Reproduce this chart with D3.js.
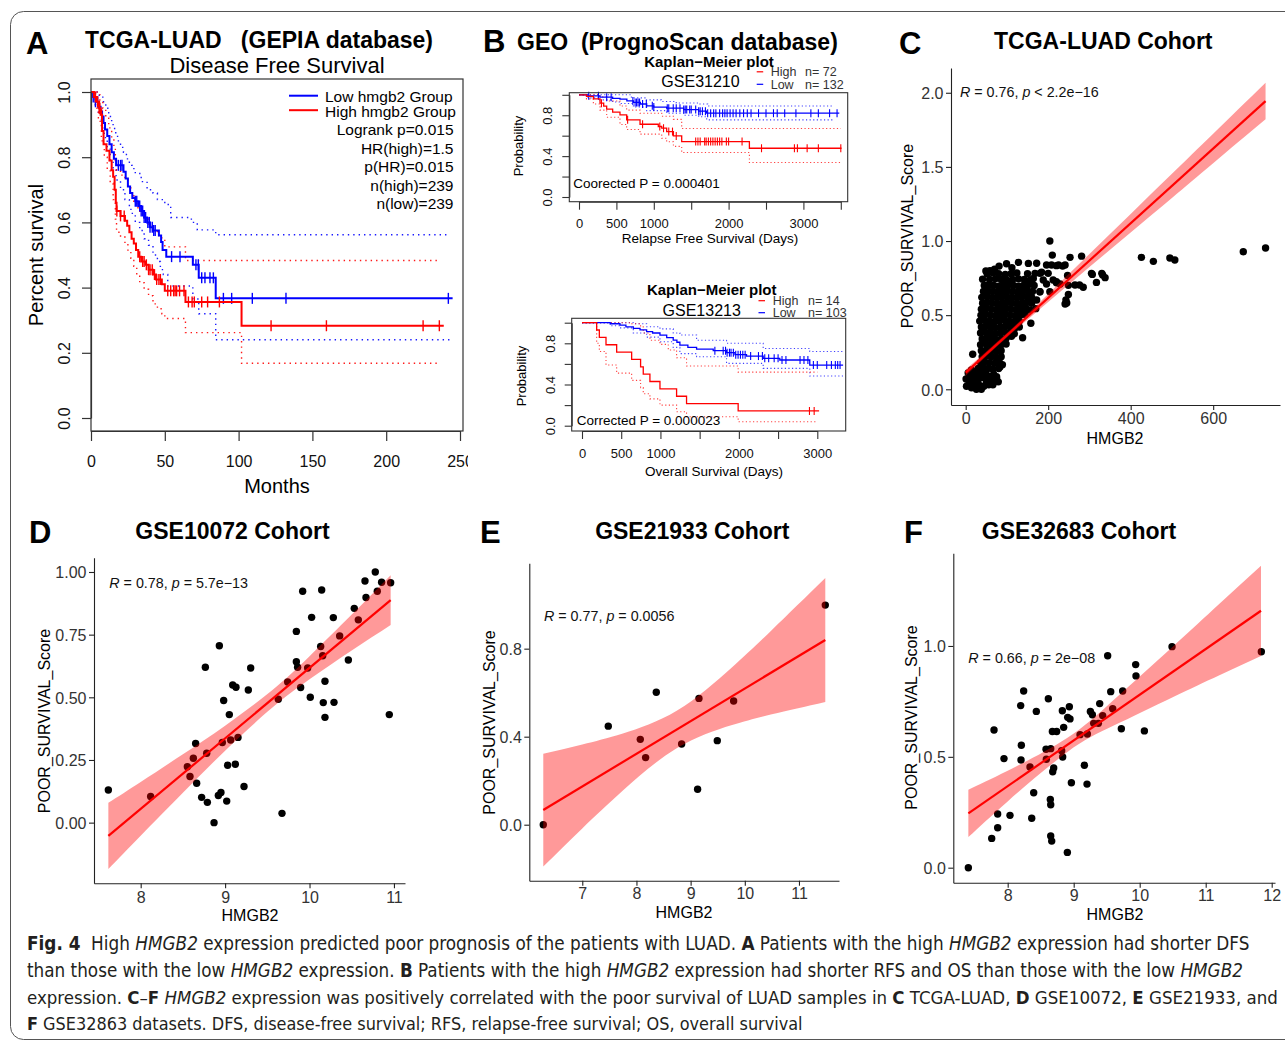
<!DOCTYPE html>
<html>
<head>
<meta charset="utf-8">
<title>HMGB2 expression and survival in LUAD</title>
<script src="https://cdn.jsdelivr.net/npm/d3@7"></script>
<style>
  html, body { margin: 0; padding: 0; background: #fff; }
  svg text { font-family: "Liberation Sans", Arial, Helvetica, sans-serif; }
  svg text.caption { font-family: "Liberation Sans Narrow", "DejaVu Sans Condensed", "Roboto Condensed", "Open Sans Condensed", "Liberation Sans", sans-serif; font-stretch: condensed; }
</style>
</head>
<body>
<svg id="fig" width="1285" height="1042" xmlns="http://www.w3.org/2000/svg"></svg>
<script>
// ---------- A: TCGA-LUAD disease free survival (months, survival) ----------
const dfsLow = [[0,1],[1.5,0.985],[3,0.97],[5,0.955],[6.5,0.94],[7.5,0.925],[8.5,0.905],[9.5,0.885],[11,0.865],[12.5,0.84],[14,0.815],[15.5,0.795],[17,0.775],[22,0.755],[23.5,0.735],[25,0.71],[26.5,0.69],[28,0.675],[30,0.665],[32,0.65],[34,0.635],[36,0.615],[38,0.6],[40,0.585],[42,0.575],[46,0.56],[47.5,0.54],[48.5,0.515],[51,0.495],[69,0.47],[73,0.43],[84.5,0.367],[245,0.367]];
const dfsLowUpper = [[0,1],[5,0.99],[8,0.97],[10,0.95],[12,0.925],[14,0.9],[16,0.875],[18,0.85],[20,0.83],[22,0.815],[24,0.795],[26,0.775],[28,0.765],[30,0.75],[34,0.725],[38,0.7],[42,0.69],[45,0.67],[50,0.655],[54,0.615],[68,0.6],[72,0.577],[84.5,0.562],[243,0.562]];
const dfsLowLower = [[0,1],[3,0.96],[5,0.93],[7,0.9],[9,0.86],[11,0.83],[13,0.79],[15,0.76],[17,0.73],[20,0.7],[23,0.67],[26,0.64],[28,0.62],[30,0.6],[33,0.575],[36,0.55],[39,0.53],[42,0.5],[45,0.48],[47,0.455],[49,0.44],[52,0.405],[69,0.365],[73,0.32],[84.5,0.24],[243,0.24]];
const dfsLowCensor = [1.5,3,4.5,18.5,20,21,30,31,33,34,35,36,37,38.5,39.5,40,41.5,42.5,43.5,54.6,60.3,71.1,72.7,75,77.2,80.6,82.9,89.7,95.3,109.3,132.1,242.1];

const dfsHigh = [[0,1],[2,0.985],[4,0.97],[5.5,0.95],[6.5,0.93],[7.5,0.88],[8.5,0.84],[10.5,0.82],[12.5,0.79],[14,0.76],[15,0.74],[16,0.7],[16.8,0.66],[17.3,0.635],[20,0.62],[23,0.605],[24.5,0.59],[26,0.57],[27.5,0.55],[29,0.535],[30.5,0.515],[32,0.495],[34,0.48],[37,0.47],[39,0.455],[42,0.44],[44,0.425],[48,0.41],[50,0.39],[64,0.356],[102,0.283],[239,0.283]];
const dfsHighUpper = [[0,1],[3,1],[6,0.975],[8,0.95],[10,0.92],[12,0.89],[14,0.86],[15.5,0.83],[16.5,0.79],[17.3,0.76],[20,0.745],[23,0.73],[25,0.71],[27,0.69],[29,0.665],[31,0.645],[33,0.625],[36,0.61],[39,0.59],[42,0.575],[45,0.56],[48,0.545],[50,0.525],[64,0.483],[236,0.483]];
const dfsHighLower = [[0,1],[3,0.95],[5,0.91],[7,0.85],[9,0.8],[11,0.76],[13,0.72],[15,0.67],[16.5,0.61],[17.3,0.57],[20,0.555],[23,0.535],[25,0.515],[27,0.49],[29,0.465],[31,0.44],[33,0.415],[36,0.395],[39,0.375],[42,0.35],[45,0.335],[48,0.32],[50,0.305],[64,0.262],[102,0.168],[236,0.168]];
const dfsHighCensor = [3,4.5,5.5,6,7.2,17.5,20,22.5,33,35,36,37.5,39,40,41.5,43,44.5,46,47,52,54,56,57,58,60,63,66,68.5,70,75,79,87,122,159.5,225,236];

const dfsXTicks = [0,50,100,150,200,250];
const survTicks = [0,0.2,0.4,0.6,0.8,1.0];
const dfsLegend = ["Low hmgb2 Group","High hmgb2 Group"];
const dfsStats = ["Logrank p=0.015","HR(high)=1.5","p(HR)=0.015","n(high)=239","n(low)=239"];

// ---------- B: GSE31210 relapse free survival (days, probability) ----------
const rfsLow = [[0,1],[120,0.99],[280,0.977],[450,0.965],[548,0.957],[640,0.94],[727,0.925],[820,0.91],[905,0.892],[1000,0.88],[1172,0.869],[1400,0.855],[1600,0.84],[1707,0.82],[3480,0.82]];
const rfsLowUpper = [[0,1],[450,1],[700,0.97],[900,0.95],[1100,0.935],[1300,0.92],[1600,0.91],[1720,0.89],[3400,0.89]];
const rfsLowLower = [[0,1],[120,0.97],[280,0.95],[450,0.93],[548,0.915],[727,0.88],[905,0.845],[1172,0.82],[1400,0.8],[1600,0.785],[1707,0.755],[3400,0.755]];
const rfsLowCensor = [130,260,370,430,720,750,770,790,810,850,900,980,1000,1180,1200,1260,1300,1350,1400,1420,1440,1480,1500,1560,1600,1620,1650,1690,1720,1760,1800,1830,1880,1920,1950,1980,2020,2060,2100,2150,2200,2250,2300,2400,2500,2600,2650,2750,2900,3100,3200,3350,3450];
const rfsHigh = [[0,1],[100,0.985],[192,0.961],[281,0.918],[330,0.89],[370,0.86],[450,0.83],[548,0.804],[637,0.755],[816,0.712],[1060,0.69],[1106,0.673],[1172,0.64],[1262,0.598],[1373,0.542],[2278,0.477],[3510,0.477]];
const rfsHighUpper = [[0,1],[192,1],[281,0.98],[370,0.94],[548,0.89],[637,0.85],[816,0.82],[1106,0.79],[1262,0.76],[1373,0.67],[3500,0.67]];
const rfsHighLower = [[0,1],[100,0.96],[192,0.91],[281,0.85],[370,0.78],[548,0.71],[637,0.66],[816,0.615],[1106,0.575],[1172,0.54],[1262,0.495],[1373,0.435],[2278,0.337],[3500,0.337]];
const rfsHighCensor = [300,650,850,1080,1130,1200,1250,1300,1560,1590,1620,1680,1700,1730,1760,1790,1820,1850,1880,1910,1970,2000,2180,2440,2880,2920,3050,3200,3500];

// ---------- B: GSE13213 overall survival (days, probability) ----------
const osLow = [[0,1],[360,0.99],[484,0.977],[560,0.96],[654,0.945],[740,0.93],[824,0.913],[900,0.9],[994,0.88],[1080,0.855],[1163,0.83],[1210,0.81],[1248,0.783],[1350,0.76],[1461,0.744],[1673,0.728],[1843,0.709],[1950,0.69],[2098,0.676],[2310,0.654],[2522,0.638],[2904,0.589],[3329,0.589]];
const osLowUpper = [[0,1],[500,1],[654,0.99],[824,0.96],[994,0.94],[1163,0.9],[1248,0.88],[1461,0.83],[1843,0.8],[2310,0.75],[2904,0.72],[3329,0.72]];
const osLowLower = [[0,1],[360,0.97],[484,0.95],[654,0.9],[824,0.86],[994,0.815],[1163,0.76],[1248,0.7],[1461,0.67],[1843,0.605],[2310,0.557],[2904,0.482],[3329,0.482]];
const osLowCensor = [1694,1800,1830,1850,1880,1900,1930,1960,1990,2020,2050,2080,2150,2250,2300,2330,2380,2450,2500,2550,2600,2780,2830,2880,2950,3000,3120,3180,3230,3260,3290];
const osHigh = [[0,1],[187,0.929],[221,0.857],[306,0.786],[442,0.714],[633,0.643],[747,0.571],[781,0.5],[866,0.429],[994,0.357],[1206,0.286],[1333,0.214],[1991,0.143],[3023,0.143]];
const osHighUpper = [[0,1],[633,0.99],[747,0.96],[781,0.9],[866,0.83],[994,0.79],[1100,0.735],[1206,0.66],[1333,0.58],[1991,0.52],[3000,0.52]];
const osHighLower = [[0,1],[187,0.8],[221,0.72],[306,0.59],[442,0.51],[633,0.44],[747,0.37],[781,0.31],[866,0.26],[994,0.2],[1206,0.136],[1333,0.087],[1991,0.039],[3000,0.039]];
const osHighCensor = [2900,2960];

const rfsXTicks = [0,500,1000,1500,2000,2500,3000,3500];
const osXTicks = [0,500,1000,1500,2000,2500,3000];
const daysLabels = [0,500,1000,2000,3000];
const probLabels = [0,0.4,0.8];

// ---------- C: TCGA-LUAD (HMGB2, POOR_SURVIVAL_Score) ----------
const tcgaPoints = [
  [2,0.02],[8,0.05],[14,0.01],[20,0.04],[26,0.0],[32,0.03],[38,0.0],[44,0.02],[50,0.05],[56,0.03],[62,0.06],[1,0.07],[10,0.09],[17,0.07],[24,0.09],[30,0.06],[36,0.1],[42,0.08],[48,0.11],[55,0.09],[68,0.1],[75,0.07],[79,0.05],[6,0.11],[14,0.13],[22,0.11],[30,0.13],[38,0.15],[12,0.03],[28,0.02],[66,0.03],[83,0.15],[75,0.085],
  [30,0.14],[42,0.145],[54,0.14],[66,0.135],[80,0.14],
  [36,0.18],[46,0.185],[58,0.18],[70,0.175],[82,0.18],
  [17,0.236],[40,0.22],[50,0.225],[62,0.22],[74,0.215],[86,0.22],
  [38,0.26],[50,0.265],[62,0.26],[74,0.255],[86,0.26],
  [36,0.3],[50,0.305],[62,0.3],[74,0.295],[86,0.3],[98,0.305],
  [40,0.34],[50,0.345],[62,0.34],[74,0.335],[86,0.34],[98,0.345],[111,0.357],[138,0.348],
  [36,0.38],[48,0.385],[60,0.38],[72,0.375],[84,0.38],[96,0.385],[108,0.38],[118,0.375],
  [38,0.42],[48,0.425],[60,0.42],[72,0.415],[84,0.42],[96,0.425],[108,0.42],[120,0.415],[130,0.42],
  [34,0.46],[46,0.465],[58,0.46],[70,0.455],[82,0.46],[94,0.465],[106,0.46],[118,0.455],[130,0.46],[158,0.445],
  [37,0.5],[48,0.505],[60,0.5],[72,0.495],[84,0.5],[96,0.505],[108,0.5],[120,0.495],[132,0.5],[144,0.505],
  [38,0.54],[50,0.545],[62,0.54],[74,0.535],[86,0.54],[98,0.545],[110,0.54],[122,0.535],[134,0.54],[146,0.545],[156,0.535],[170,0.544],
  [41,0.58],[52,0.585],[64,0.58],[76,0.575],[88,0.58],[100,0.585],[112,0.58],[124,0.575],[136,0.58],[148,0.585],[160,0.58],
  [39,0.62],[52,0.625],[64,0.62],[76,0.615],[88,0.62],[100,0.625],[112,0.62],[124,0.615],[136,0.62],[148,0.625],[160,0.62],[172,0.602],
  [43,0.66],[54,0.665],[66,0.66],[78,0.655],[90,0.66],[102,0.665],[114,0.66],[126,0.655],[138,0.66],[150,0.665],[162,0.66],[180,0.658],
  [45,0.7],[56,0.705],[68,0.7],[80,0.695],[92,0.7],[104,0.705],[116,0.7],[128,0.695],[140,0.7],[152,0.705],[166,0.7],
  [41,0.742],[58,0.74],[72,0.745],[86,0.74],[100,0.735],[114,0.74],[128,0.745],[142,0.74],[156,0.735],[164,0.748],
  [52,0.78],[66,0.785],[80,0.78],[96,0.775],[110,0.78],[124,0.785],[150,0.78],[168,0.782],[180,0.782],
  [49,0.798],[59,0.8],[81,0.831],[99,0.847],[128,0.856],[152,0.849],[172,0.85],[70,0.81],[112,0.82],
  [204,1.0],[210,0.905],[253,0.89],[281,0.898],[426,0.89],[455,0.863],[495,0.885],[507,0.872],[673,0.928],[727,0.953],
  [307,0.775],[317,0.721],[332,0.771],[338,0.753],[276,0.703],[285,0.688],[249,0.701],[249,0.64],[245,0.582],[241,0.575],
  [208,0.838],[220,0.834],[235,0.831],[225,0.838],[241,0.838],[196,0.838],[200,0.782],[184,0.789],[196,0.71],[229,0.71],
  [220,0.726],[247,0.768],[212,0.737],[188,0.737],[220,0.719],[265,0.703],[305,0.782],[330,0.782],[243,0.602],[204,0.658],
  [180,0.658],[156,0.625],[89,0.166]
];
const tcgaFit = [[0,0.112],[727,1.944]];
const tcgaBand = [[0,0.091,0.133],[100,0.349,0.379],[200,0.589,0.643],[300,0.824,0.912],[400,1.058,1.182],[500,1.291,1.453],[600,1.525,1.723],[727,1.821,2.067]];

// ---------- D: GSE10072 ----------
const gse10072Points = [
  [7.617,0.130],[8.118,0.104],[8.553,0.223],[8.584,0.184],[8.624,0.257],[8.651,0.316],[8.663,0.157],[8.722,0.101],[8.766,0.620],[8.782,0.277],
  [8.790,0.081],[8.869,0.0],[8.920,0.108],[8.951,0.120],[8.932,0.706],[8.967,0.320],[8.983,0.487],[9.019,0.086],[9.030,0.229],[9.050,0.431],
  [9.066,0.330],[9.090,0.549],[9.121,0.233],[9.129,0.540],[9.153,0.340],[9.224,0.144],[9.275,0.529],[9.303,0.617],[9.630,0.492],[9.674,0.037],
  [9.741,0.561],[9.844,0.763],[9.844,0.642],[9.859,0.620],[9.895,0.539],[9.919,0.923],[9.978,0.617],[10.009,0.500],[10.025,0.819],[10.132,0.703],
  [10.144,0.928],[10.156,0.666],[10.163,0.479],[10.183,0.564],[10.183,0.420],[10.282,0.818],[10.290,0.480],[10.357,0.745],[10.460,0.649],[10.530,0.855],
  [10.578,0.809],[10.657,0.964],[10.669,0.898],[10.779,1.0],[10.803,0.923],[10.854,0.959],[10.945,0.431],[10.961,0.957]
];
const gse10072Fit = [[7.617,-0.053],[10.961,0.888]];
const gse10072Band = [[7.617,-0.185,0.079],[8.0,-0.052,0.162],[8.5,0.119,0.273],[9.0,0.287,0.387],[9.55,0.456,0.526],[10.0,0.572,0.664],[10.5,0.687,0.830],[10.961,0.789,0.987]];

// ---------- E: GSE21933 ----------
const gse21933Points = [[6.28,0.0],[7.48,0.448],[8.071,0.388],[8.169,0.305],[8.366,0.602],[8.834,0.367],[9.129,0.161],[9.154,0.574],[9.492,0.382],[9.794,0.562],[11.486,0.998]];
const gse21933Fit = [[6.28,0.067],[11.486,0.8395]];
const gse21933Band = [[6.28,-0.190,0.323],[7.0,-0.017,0.365],[7.75,0.155,0.415],[8.75,0.3485,0.5185],[9.75,0.452,0.712],[10.5,0.502,0.885],[11.486,0.558,1.121]];

// ---------- F: GSE32683 ----------
const gse32683Points = [
  [7.404,0.0],[7.758,0.132],[7.793,0.621],[7.848,0.242],[7.848,0.180],[7.944,0.492],[8.035,0.236],[8.197,0.731],[8.207,0.552],[8.202,0.486],
  [8.242,0.797],[8.338,0.454],[8.364,0.223],[8.394,0.338],[8.434,0.705],[8.581,0.534],[8.586,0.489],[8.616,0.762],[8.652,0.537],[8.646,0.308],
  [8.652,0.284],[8.652,0.143],[8.667,0.120],[8.677,0.614],[8.697,0.450],[8.682,0.433],[8.742,0.614],[8.818,0.528],[8.833,0.499],[8.828,0.708],
  [8.848,0.633],[8.904,0.069],[8.909,0.678],[8.934,0.726],[8.944,0.671],[8.965,0.383],[9.096,0.600],[9.162,0.462],[9.202,0.377],[9.207,0.603],
  [9.253,0.705],[9.283,0.690],[9.303,0.651],[9.374,0.651],[9.394,0.740],[9.439,0.686],[9.515,0.956],[9.561,0.794],[9.591,0.717],[9.722,0.627],
  [9.742,0.797],[9.939,0.916],[9.944,0.865],[10.071,0.617],[10.490,0.997],[11.843,0.974]
];
const gse32683Fit = [[7.404,0.245],[11.838,1.159]];
const gse32683Band = [[7.404,0.138,0.352],[8.0,0.299,0.437],[8.9,0.521,0.585],[9.6,0.640,0.755],[10.5,0.769,0.997],[11.2,0.867,1.188],[11.838,0.955,1.362]];

// ---------- caption ----------
const captionLines = [
  [["b", "Fig. 4"], ["r", "  High "], ["i", "HMGB2"], ["r", " expression predicted poor prognosis of the patients with LUAD. "], ["b", "A"], ["r", " Patients with the high "], ["i", "HMGB2"], ["r", " expression had shorter DFS"]],
  [["r", "than those with the low "], ["i", "HMGB2"], ["r", " expression. "], ["b", "B"], ["r", " Patients with the high "], ["i", "HMGB2"], ["r", " expression had shorter RFS and OS than those with the low "], ["i", "HMGB2"]],
  [["r", "expression. "], ["b", "C"], ["r", "\u2013"], ["b", "F"], ["r", " "], ["i", "HMGB2"], ["r", " expression was positively correlated with the poor survival of LUAD samples in "], ["b", "C"], ["r", " TCGA-LUAD, "], ["b", "D"], ["r", " GSE10072, "], ["b", "E"], ["r", " GSE21933, and"]],
  [["b", "F"], ["r", " GSE32863 datasets. DFS, disease-free survival; RFS, relapse-free survival; OS, overall survival"]]
];

// ---------- drawing ----------
const svg = d3.select("#fig");
const BLUE = "#0000ff", RED = "#ff0000";

function txt(parent, x, y, s, o = {}) {
  return parent.append("text").attr("x", x).attr("y", y)
    .attr("font-size", o.size || 14)
    .attr("font-weight", o.weight || null)
    .attr("font-style", o.style || null)
    .attr("text-anchor", o.anchor || "start")
    .attr("fill", o.fill || "#000")
    .attr("transform", o.rotate ? `rotate(-90,${x},${y})` : null)
    .style("white-space", "pre")
    .text(s);
}

// figure frame
svg.append("rect").attr("x", 10.5).attr("y", 11.5).attr("width", 1300).attr("height", 1028)
  .attr("rx", 13).attr("fill", "none").attr("stroke", "#555").attr("stroke-width", 1);

function kmPanel(cfg) {
  const g = svg.append("g");
  const x = d3.scaleLinear().domain(cfg.xDomain).range(cfg.xRange);
  const y = d3.scaleLinear().domain([0, 1]).range(cfg.yRange);
  const [bx0, by0, bx1, by1] = cfg.box;
  const step = d3.line().x(d => x(d[0])).y(d => y(d[1])).curve(d3.curveStepAfter);

  cfg.series.forEach(s => {
    [s.upper, s.lower].forEach(ci => {
      g.append("path").datum(ci).attr("d", step).attr("fill", "none")
        .attr("stroke", s.color).attr("stroke-width", cfg.ciWidth)
        .attr("stroke-dasharray", cfg.dash).attr("opacity", cfg.ciOpacity);
    });
  });
  cfg.series.forEach(s => {
    g.append("path").datum(s.steps).attr("d", step).attr("fill", "none")
      .attr("stroke", s.color).attr("stroke-width", cfg.lineWidth);
    const survAt = t => { let v = 1; for (const [tt, sv] of s.steps) { if (tt <= t) v = sv; else break; } return v; };
    g.append("g").selectAll("line").data(s.censor).join("line")
      .attr("x1", d => x(d)).attr("x2", d => x(d))
      .attr("y1", d => y(survAt(d)) - cfg.censorH).attr("y2", d => y(survAt(d)) + cfg.censorH)
      .attr("stroke", s.color).attr("stroke-width", cfg.censorW);
  });

  g.append("rect").attr("x", bx0).attr("y", by0).attr("width", bx1 - bx0).attr("height", by1 - by0)
    .attr("fill", "none").attr("stroke", "#333").attr("stroke-width", cfg.boxWidth);

  const xAxis = d3.axisBottom(x).tickValues(cfg.xTicks).tickSize(cfg.tickX).tickSizeOuter(0)
    .tickFormat(d => cfg.xLabels.includes(d) ? String(d) : "");
  const gx = g.append("g").attr("transform", `translate(0,${by1})`).attr("color", "#333").call(xAxis);
  gx.selectAll("text").attr("y", cfg.xLabelOff).attr("dy", 0).attr("font-size", cfg.tickFont).attr("fill", "#111");
  if (cfg.clipX) gx.attr("clip-path", `url(#${cfg.clipX})`);

  const yAxis = d3.axisLeft(y).tickValues(survTicks).tickSize(cfg.tickY).tickSizeOuter(0)
    .tickFormat(d => cfg.yLabels.includes(d) ? d3.format(".1f")(d) : "");
  const gy = g.append("g").attr("transform", `translate(${bx0},0)`).attr("color", "#333").call(yAxis);
  gy.selectAll("text").attr("x", 0).attr("dy", 0).attr("text-anchor", "middle")
    .attr("transform", `translate(${cfg.yLabelOff},0) rotate(-90)`)
    .attr("font-size", cfg.tickFont).attr("fill", "#111");
  gx.selectAll(".domain, line").attr("stroke-width", cfg.boxWidth);
  gy.selectAll(".domain, line").attr("stroke-width", cfg.boxWidth);
  return g;
}

svg.append("defs").append("clipPath").attr("id", "clipA")
  .append("rect").attr("x", 0).attr("y", 0).attr("width", 468).attr("height", 1042);

// ---- Panel A ----
kmPanel({
  xDomain: [0, 250], xRange: [91, 460], yRange: [418, 92], box: [91, 79, 463, 431],
  xTicks: dfsXTicks, xLabels: dfsXTicks, yLabels: survTicks,
  tickX: 10, tickY: 9, xLabelOff: 35.7, yLabelOff: -21, tickFont: 16,
  lineWidth: 2, ciWidth: 1.4, dash: "1.4,4", ciOpacity: 0.9, censorH: 5.5, censorW: 1.4, boxWidth: 1.2,
  clipX: "clipA",
  series: [
    { color: BLUE, steps: dfsLow, upper: dfsLowUpper, lower: dfsLowLower, censor: dfsLowCensor },
    { color: RED, steps: dfsHigh, upper: dfsHighUpper, lower: dfsHighLower, censor: dfsHighCensor }
  ]
});
txt(svg, 26, 53.5, "A", { size: 31, weight: "bold" });
txt(svg, 85, 48, "TCGA-LUAD   (GEPIA database)", { size: 23, weight: "bold" });
txt(svg, 277, 73, "Disease Free Survival", { size: 22, anchor: "middle" });
txt(svg, 277, 493, "Months", { size: 20, anchor: "middle" });
txt(svg, 42.5, 255, "Percent survival", { size: 20, anchor: "middle", rotate: true });
[BLUE, RED].forEach((c, i) => {
  svg.append("line").attr("x1", 289).attr("x2", 318).attr("y1", 95.7 + i * 14.5).attr("y2", 95.7 + i * 14.5)
    .attr("stroke", c).attr("stroke-width", 2);
  txt(svg, 325, 101.5 + i * 15, dfsLegend[i], { size: 15.5 });
});
dfsStats.forEach((s, i) => txt(svg, 453.5, 135 + i * 18.5, s, { size: 15.5, anchor: "end" }));

// ---- Panel B ----
txt(svg, 483, 51.5, "B", { size: 31, weight: "bold" });
txt(svg, 517, 50, "GEO  (PrognoScan database)", { size: 23, weight: "bold" });

kmPanel({
  xDomain: [0, 3500], xRange: [579, 840.8], yRange: [197, 94.8], box: [569.3, 92.7, 847.7, 201.7],
  xTicks: rfsXTicks, xLabels: daysLabels, yLabels: probLabels,
  tickX: 8, tickY: 7, xLabelOff: 26.6, yLabelOff: -17.6, tickFont: 13,
  lineWidth: 1.3, ciWidth: 1.1, dash: "1.2,2.4", ciOpacity: 0.75, censorH: 4, censorW: 1.1, boxWidth: 1.1,
  series: [
    { color: BLUE, steps: rfsLow, upper: rfsLowUpper, lower: rfsLowLower, censor: rfsLowCensor },
    { color: RED, steps: rfsHigh, upper: rfsHighUpper, lower: rfsHighLower, censor: rfsHighCensor }
  ]
});
txt(svg, 709, 66.5, "Kaplan\u2212Meier plot", { size: 15, weight: "bold", anchor: "middle" });
txt(svg, 700.5, 86.5, "GSE31210", { size: 16, anchor: "middle" });
txt(svg, 573.3, 188, "Coorected P = 0.000401", { size: 13.5 });
txt(svg, 710, 242.5, "Relapse Free Survival (Days)", { size: 13.5, anchor: "middle" });
txt(svg, 523.3, 146, "Probability", { size: 13, anchor: "middle", rotate: true });

kmPanel({
  xDomain: [0, 3000], xRange: [582, 817.3], yRange: [425.7, 322.7], box: [571.7, 318.3, 845.7, 431],
  xTicks: osXTicks, xLabels: daysLabels, yLabels: probLabels,
  tickX: 8, tickY: 7, xLabelOff: 26.7, yLabelOff: -16.7, tickFont: 13,
  lineWidth: 1.3, ciWidth: 1.1, dash: "1.2,2.4", ciOpacity: 0.75, censorH: 4, censorW: 1.1, boxWidth: 1.1,
  series: [
    { color: BLUE, steps: osLow, upper: osLowUpper, lower: osLowLower, censor: osLowCensor },
    { color: RED, steps: osHigh, upper: osHighUpper, lower: osHighLower, censor: osHighCensor }
  ]
});
txt(svg, 711.7, 294.7, "Kaplan\u2212Meier plot", { size: 15, weight: "bold", anchor: "middle" });
txt(svg, 701.7, 316.4, "GSE13213", { size: 16, anchor: "middle" });
txt(svg, 576.7, 425, "Corrected P = 0.000023", { size: 13.5 });
txt(svg, 714, 476, "Overall Survival (Days)", { size: 13.5, anchor: "middle" });
txt(svg, 526, 376, "Probability", { size: 13, anchor: "middle", rotate: true });

// legends of the two Kaplan-Meier plots
[
  { y: 71.8, yl: 76.2, dx: 756.7, tx: 770.7, nx: 805, label: "High", n: "n= 72", c: RED },
  { y: 84.3, yl: 88.5, dx: 756.7, tx: 770.7, nx: 805, label: "Low", n: "n= 132", c: BLUE },
  { y: 300.7, yl: 305, dx: 758.5, tx: 772.7, nx: 808, label: "High", n: "n= 14", c: RED },
  { y: 312.7, yl: 317, dx: 758.5, tx: 772.7, nx: 808, label: "Low", n: "n= 103", c: BLUE }
].forEach(e => {
  svg.append("line").attr("x1", e.dx).attr("x2", e.dx + 6.5).attr("y1", e.y).attr("y2", e.y)
    .attr("stroke", e.c).attr("stroke-width", 1.2);
  txt(svg, e.tx, e.yl, e.label, { size: 12.5, fill: "#333" });
  txt(svg, e.nx, e.yl, e.n, { size: 12.5, fill: "#333" });
});

// ---- correlation panels ----
function scatterPanel(cfg) {
  const g = svg.append("g");
  const x = d3.scaleLinear().domain(cfg.xDomain).range(cfg.xRange);
  const y = d3.scaleLinear().domain(cfg.yDomain).range(cfg.yRange);
  g.append("g").selectAll("circle").data(cfg.points).join("circle")
    .attr("cx", d => x(d[0])).attr("cy", d => y(d[1])).attr("r", 3.7).attr("fill", "#000");
  const band = d3.area().x(d => x(d[0])).y0(d => y(d[1])).y1(d => y(d[2])).curve(d3.curveNatural);
  g.append("path").datum(cfg.band).attr("d", band).attr("fill", RED).attr("fill-opacity", 0.4);
  g.append("path").datum(cfg.fit).attr("d", d3.line().x(d => x(d[0])).y(d => y(d[1])))
    .attr("fill", "none").attr("stroke", RED).attr("stroke-width", 2.2);

  const gx = g.append("g").attr("transform", `translate(0,${cfg.yRange[0]})`).attr("color", "#222")
    .call(d3.axisBottom(x).tickValues(cfg.xTicks).tickSize(5).tickSizeOuter(0).tickFormat(cfg.xFmt));
  gx.selectAll("text").attr("y", cfg.xLabelOff).attr("dy", 0).attr("font-size", 16).attr("fill", "#333");
  const gy = g.append("g").attr("transform", `translate(${cfg.xRange[0]},0)`).attr("color", "#222")
    .call(d3.axisLeft(y).tickValues(cfg.yTicks).tickSize(5).tickSizeOuter(0).tickFormat(cfg.yFmt));
  gy.selectAll("text").attr("x", -7.5).attr("dy", "0.36em").attr("font-size", 16).attr("fill", "#333");
  g.selectAll(".domain, .tick line").attr("stroke-width", 1.1);

  txt(svg, cfg.letter[0], cfg.letter[1], cfg.letter[2], { size: 31, weight: "bold" });
  txt(svg, cfg.title[0], cfg.title[1], cfg.title[2], { size: 23, weight: "bold", anchor: "middle" });
  txt(svg, cfg.xTitle[0], cfg.xTitle[1], "HMGB2", { size: 16, anchor: "middle" });
  txt(svg, cfg.yTitle[0], cfg.yTitle[1], "POOR_SURVIVAL_Score", { size: 16, anchor: "middle", rotate: true });
  const a = svg.append("text").attr("x", cfg.note[0]).attr("y", cfg.note[1]).attr("font-size", 14.3).attr("fill", "#111");
  a.append("tspan").attr("font-style", "italic").text("R");
  a.append("tspan").text(` = ${cfg.note[2]}, `);
  a.append("tspan").attr("font-style", "italic").text("p");
  a.append("tspan").text(` ${cfg.note[3]}`);
}

scatterPanel({
  points: tcgaPoints, fit: tcgaFit, band: tcgaBand,
  xDomain: [-35.6, 762], xRange: [951, 1280], yDomain: [-0.106, 2.167], yRange: [405, 68],
  xTicks: [0, 200, 400, 600], yTicks: [0, 0.5, 1, 1.5, 2], xFmt: d3.format("d"), yFmt: d3.format(".1f"),
  xLabelOff: 19.3,
  letter: [899, 53.5, "C"], title: [1103.3, 48.5, "TCGA-LUAD Cohort"],
  xTitle: [1115, 443.5], yTitle: [913, 236], note: [960, 96.7, "0.76", "< 2.2e\u221216"]
});
scatterPanel({
  points: gse10072Points, fit: gse10072Fit, band: gse10072Band,
  xDomain: [7.447, 11.131], xRange: [94, 405], yDomain: [-0.242, 1.057], yRange: [883.3, 557.7],
  xTicks: [8, 9, 10, 11], yTicks: [0, 0.25, 0.5, 0.75, 1], xFmt: d3.format("d"), yFmt: d3.format(".2f"),
  xLabelOff: 20,
  letter: [29, 542.5, "D"], title: [232.5, 538.5, "GSE10072 Cohort"],
  xTitle: [250, 921], yTitle: [50, 721], note: [109.3, 587.5, "0.78", "= 5.7e\u221213"]
});
scatterPanel({
  points: gse21933Points, fit: gse21933Fit, band: gse21933Band,
  xDomain: [6.022, 11.739], xRange: [529.3, 839], yDomain: [-0.2545, 1.188], yRange: [880.7, 563.3],
  xTicks: [7, 8, 9, 10, 11], yTicks: [0, 0.4, 0.8], xFmt: d3.format("d"), yFmt: d3.format(".1f"),
  xLabelOff: 18.6,
  letter: [480, 542.5, "E"], title: [692.3, 538.5, "GSE21933 Cohort"],
  xTitle: [684, 918.3], yTitle: [495, 722.5], note: [544, 621, "0.77", "= 0.0056"]
});
scatterPanel({
  points: gse32683Points, fit: gse32683Fit, band: gse32683Band,
  xDomain: [7.176, 12.05], xRange: [953.3, 1275], yDomain: [-0.0677, 1.418], yRange: [882.7, 553.3],
  xTicks: [8, 9, 10, 11, 12], yTicks: [0, 0.5, 1], xFmt: d3.format("d"), yFmt: d3.format(".1f"),
  xLabelOff: 18.5,
  letter: [904, 542.5, "F"], title: [1079, 538.5, "GSE32683 Cohort"],
  xTitle: [1115, 920], yTitle: [917, 717.5], note: [968.3, 662.7, "0.66", "= 2e\u221208"]
});

// caption: each line is sized so that its natural width spans the text block
const captionBase = [950, 977, 1004, 1030];
const captionEnd = [1250, 1244, 1278, 803];
captionLines.forEach((line, i) => {
  const t = svg.append("text").attr("class", "caption").attr("x", 27).attr("y", captionBase[i])
    .attr("font-size", 20).attr("fill", "#231f20")
    .style("white-space", "pre");
  line.forEach(([k, s]) => {
    t.append("tspan").attr("font-weight", k === "b" ? "bold" : null)
      .attr("font-style", k === "i" ? "italic" : null).text(s);
  });
  const w = t.node().getComputedTextLength();
  if (w > 0) t.attr("font-size", (20 * (captionEnd[i] - 27) / w).toFixed(2));
});
</script>
</body>
</html>
